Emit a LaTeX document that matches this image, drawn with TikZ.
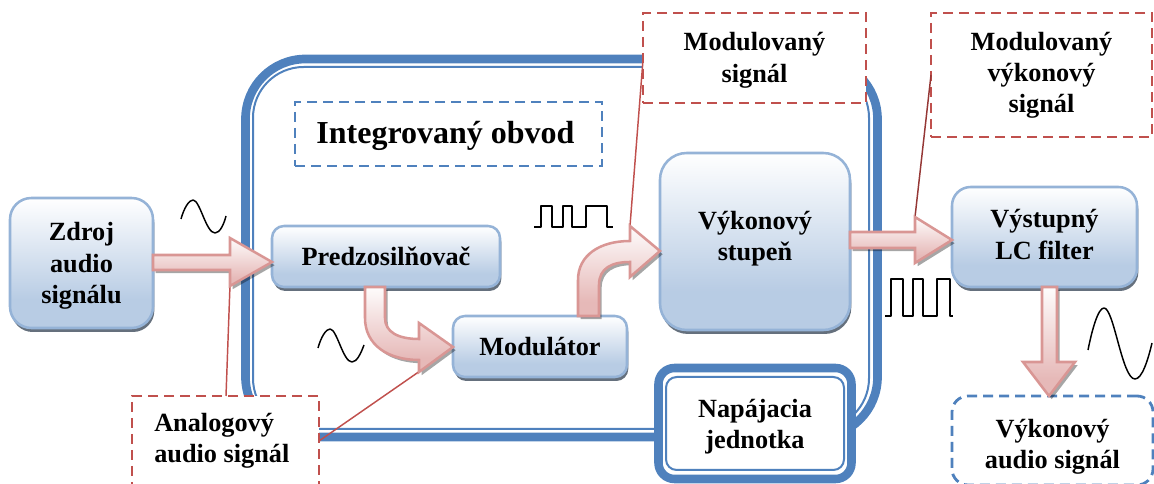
\documentclass[tikz,border=0pt]{standalone}
\usepackage{fontspec}
\setmainfont{Liberation Serif}
\usetikzlibrary{calc,shadows}
\definecolor{frameblue}{HTML}{4F81BD}
\definecolor{edgeblue}{HTML}{95B3D7}
\definecolor{fillblue}{HTML}{B8CCE4}
\definecolor{calloutred}{HTML}{C0504D}
\definecolor{darkleader}{HTML}{953735}
\definecolor{arrowpink}{HTML}{D99694}
\definecolor{arrowfill}{HTML}{E6B9B8}
\pgfdeclareverticalshading{boxshade}{100bp}{
  color(0bp)=(fillblue); color(36bp)=(fillblue); color(75bp)=(white); color(100bp)=(white)}
\pgfdeclareverticalshading{arrowshade}{100bp}{
  color(0bp)=(arrowfill); color(33bp)=(arrowfill); color(75bp)=(white!96!arrowfill); color(100bp)=(white)}
\tikzset{
  px/.style={x=0.75pt,y=-0.75pt},
  lbl/.style={font=\bfseries\fontsize{19.7}{23.4}\selectfont,align=center,text=black},
  blockbox/.style={lbl,draw=edgeblue,line width=1.9pt,shading=boxshade,rounded corners=#1,
    anchor=north west,inner sep=0pt,outer sep=0pt,
    general shadow={shadow xshift=1pt,shadow yshift=-3pt,fill=black!45!fillblue}},
  blockbox/.default=10pt,
  dashbox/.style={lbl,draw=calloutred,line width=2.1pt,dash pattern=on 7.5pt off 4.5pt,fill=white,
    anchor=north west,inner sep=0pt,outer sep=0pt},
  bluedash/.style={lbl,draw=frameblue,line width=2.1pt,dash pattern=on 7.5pt off 4.5pt,fill=white,
    anchor=north west,inner sep=0pt,outer sep=0pt},
  leader/.style={draw=calloutred,line width=1.1pt},
  wave/.style={draw=black,line width=1.1pt,line join=round},
  blockarrow/.style={draw=arrowpink,line width=1.9pt,shading=arrowshade,line join=miter,
    general shadow={shadow xshift=2pt,shadow yshift=-2.4pt,fill=black,fill opacity=.35}},
}
\begin{document}
\begin{tikzpicture}[px]
\useasboundingbox (0,0) rectangle (1154,484);
% integrated circuit frame
\draw[frameblue,line width=6.5pt,rounded corners=45pt] (245.5,59) rectangle (877.5,437);
\draw[frameblue,line width=1.5pt,rounded corners=38pt] (253,67) rectangle (869,429);
% power supply
\node[draw=frameblue,line width=6.4pt,fill=white,rounded corners=12pt,anchor=north west,inner sep=0pt,outer sep=0pt,
  minimum width=193*0.75pt,minimum height=111*0.75pt] (napaj) at (658.5,368) {};
\node[draw=frameblue,line width=1.5pt,rounded corners=8pt,anchor=north west,inner sep=0pt,outer sep=0pt,lbl,
  minimum width=178*0.75pt,minimum height=93*0.75pt] (napajin) at (666,377) {Napájacia\\jednotka\\[-23.4pt]};
% dashed boxes
\node[dashbox,minimum width=187*0.75pt,minimum height=100*0.75pt] (analog) at (132,396) {};
\node[lbl,align=left,anchor=north west,inner sep=0pt] (analogt) at (154,413) {Analogový\\audio signál};
\node[dashbox,minimum width=223*0.75pt,minimum height=90*0.75pt] (mod1) at (643,13) {Modulovaný\\signál\\[-22.6pt]};
\node[dashbox,minimum width=221*0.75pt,minimum height=124*0.75pt] (mod2) at (931,13) {Modulovaný\\výkonový\\signál};
\node[bluedash,font=\bfseries\fontsize{24}{28}\selectfont,minimum width=307*0.75pt,minimum height=64*0.75pt] (ic) at (295,102) {Integrovaný obvod\hspace*{4.5pt}\\[-25pt]};
\node[bluedash,rounded corners=12pt,minimum width=201*0.75pt,minimum height=89*0.75pt] (vaudio) at (952,396) {Výkonový\\audio signál\\[-28pt]};
% blocks
\node[blockbox=16pt,minimum width=143*0.75pt,minimum height=130*0.75pt] (zdroj) at (10,198) {Zdroj\\audio\\signálu\\[-23.4pt]};
\node[blockbox=9pt,minimum width=228*0.75pt,minimum height=61*0.75pt] (pred) at (272,226) {Predzosilňovač};
\node[blockbox=9pt,minimum width=174*0.75pt,minimum height=61*0.75pt] (modul) at (453,316) {Modulátor};
\node[blockbox=20pt,minimum width=190*0.75pt,minimum height=177*0.75pt] (vyk) at (660,153) {Výkonový\\stupeň\\[-15pt]};
\node[blockbox=14pt,minimum width=185*0.75pt,minimum height=100*0.75pt] (vys) at (952,187) {Výstupný\\LC filter\\[-19.5pt]};
% leaders
\coordinate (la) at (230,285);
\coordinate (lb) at (420,371);
\coordinate (lc) at (630,226);
\coordinate (ld) at (915,217);
\draw[leader] (226,396) -- (la);
\draw[leader] (319,441) -- (lb);
\draw[leader] (643,60) -- (lc);
\draw[leader,draw=darkleader] (931,75) -- (ld);
% block arrows
\path[blockarrow] (zdroj.east |- 0,255) -- (230,255) -- (230,238) -- (pred.west |- 0,262) -- (230,286) -- (230,270) -- (zdroj.east |- 0,270) -- cycle;
\path[blockarrow] (365,287) -- (385,287) -- (385,318) .. controls (385,332) and (398,339) .. (419,339) -- (419,323) -- (modul.west |- 0,347) -- (419,372) -- (419,360) .. controls (388,360) and (365,345) .. (365,318) -- cycle;
\path[blockarrow] (578,316) -- (578,280) .. controls (578,255) and (600,241) .. (630,241) -- (630,226) -- (vyk.west |- 0,251) -- (630,277) -- (630,262) .. controls (612,262) and (599,268) .. (599,285) -- (599,316) -- cycle;
\path[blockarrow] (vyk.east |- 0,232) -- (915,232) -- (915,217) -- (vys.west |- 0,240) -- (915,263) -- (915,248) -- (vyk.east |- 0,248) -- cycle;
\path[blockarrow] (1042,287) -- (1057,287) -- (1057,362) -- (1075,362) -- (1049,396) -- (1023,362) -- (1042,362) -- cycle;
% sine waves
\draw[wave] (181,219) .. controls (184,208) and (189,200) .. (193,200) .. controls (200,200) and (206,233) .. (215,233) .. controls (220,233) and (224,224) .. (226,216);
\draw[wave] (318,348) .. controls (321,337) and (326,329) .. (330,329) .. controls (337,329) and (343,362) .. (352,362) .. controls (357,362) and (361,353) .. (364,345);
\draw[wave] (1088,350) .. controls (1092,330) and (1098,308) .. (1104,308) .. controls (1114,308) and (1122,379) .. (1135,379) .. controls (1142,379) and (1148,360) .. (1152,343);
% square waves
\draw[wave] (534,227) -| (541,206) -| (552,227) -| (563,206) -| (572,227) -| (586,206) -| (607,227) -- (613,227);
\draw[wave] (885,316) -| (891,279) -| (903,316) -| (913,279) -| (923,316) -| (937,279) -| (950,316) -- (953,316);
\end{tikzpicture}
\end{document}
